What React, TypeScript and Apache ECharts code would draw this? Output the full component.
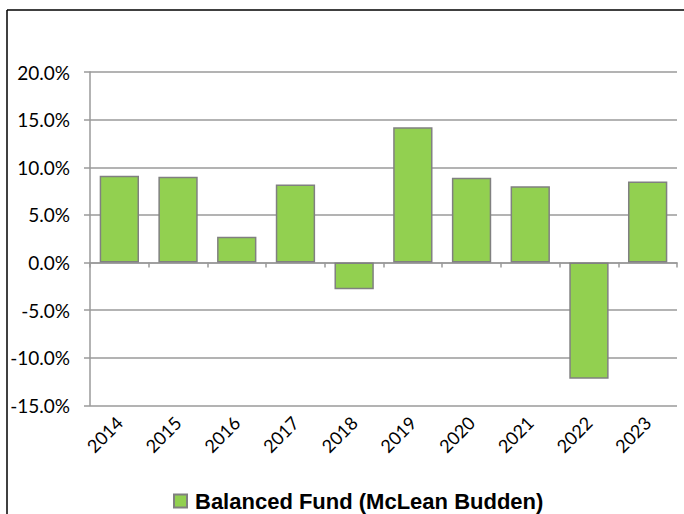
import React, { useEffect, useRef } from "react";
import * as echarts from "echarts";

const years = ["2014", "2015", "2016", "2017", "2018", "2019", "2020", "2021", "2022", "2023"];
const returns = [9.1, 9.0, 2.7, 8.2, -2.8, 14.2, 8.9, 8.0, -12.2, 8.5];
const seriesName = "Balanced Fund (McLean Budden)";

export default function App() {
  const ref = useRef<HTMLDivElement>(null);
  useEffect(() => {
    if (!ref.current) return;
    const chart = echarts.init(ref.current, null, { renderer: "svg" });
    chart.setOption({
      animation: false,
      backgroundColor: "#ffffff",
      grid: { left: 90, right: 7, top: 72, bottom: 108.5 },
      graphic: [
        {
          type: "line",
          shape: { x1: 7, y1: 10, x2: 684, y2: 10 },
          style: { stroke: "#000000", lineWidth: 1.5 },
          silent: true,
          z: 10,
        },
        {
          type: "line",
          shape: { x1: 7, y1: 10, x2: 7, y2: 514 },
          style: { stroke: "#000000", lineWidth: 1.5 },
          silent: true,
          z: 10,
        },
      ],
      legend: {
        data: [seriesName],
        left: 173,
        top: 490,
        padding: 0,
        icon: "rect",
        itemWidth: 13,
        itemHeight: 13,
        textStyle: {
          fontFamily: "Liberation Sans",
          fontWeight: "bold",
          fontSize: 22,
          color: "#000",
          padding: [0, 0, 0, 3],
        },
      },
      xAxis: [
        {
          type: "category",
          data: years,
          position: "bottom",
          boundaryGap: true,
          axisLine: { show: true, onZero: true, lineStyle: { color: "#9a9a9a", width: 1.5 } },
          axisTick: { show: true, length: 5, lineStyle: { color: "#9a9a9a", width: 1.5 } },
          axisLabel: { show: false },
          splitLine: { show: false },
        },
        {
          type: "category",
          data: years,
          position: "bottom",
          boundaryGap: true,
          axisLine: { show: false, onZero: false },
          axisTick: { show: false },
          axisLabel: {
            show: true,
            rotate: 45,
            margin: 14,
            fontFamily: "Lato",
            fontSize: 18,
            color: "#000",
          },
          splitLine: { show: false },
        },
      ],
      yAxis: {
        type: "value",
        min: -15,
        max: 20,
        interval: 5,
        axisLine: { show: true, lineStyle: { color: "#9a9a9a", width: 1.5 } },
        axisTick: { show: true, length: 6, lineStyle: { color: "#9a9a9a", width: 1.5 } },
        splitLine: { show: true, lineStyle: { color: "#9a9a9a", width: 1.5 } },
        axisLabel: {
          margin: 20,
          fontFamily: "Lato",
          fontSize: 19,
          color: "#000",
          formatter: (v: number) => v.toFixed(1) + "%",
        },
      },
      series: [
        {
          name: seriesName,
          type: "bar",
          xAxisIndex: 0,
          data: returns,
          barCategoryGap: "33%",
          itemStyle: { color: "#92D050", borderColor: "#808080", borderWidth: 1.5 },
        },
      ],
    });
    return () => chart.dispose();
  }, []);
  return (
    <div
      ref={ref}
      style={{ position: "fixed", left: 0, top: 0, width: 684, height: 514 }}
    />
  );
}
